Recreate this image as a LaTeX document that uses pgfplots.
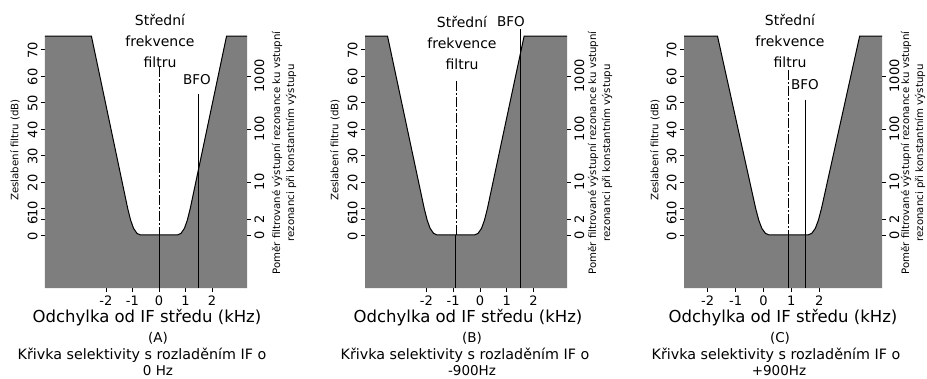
\documentclass[border=0pt]{standalone}
\usepackage{fontspec}
\setmainfont{DejaVu Sans}
\usepackage{pgfplots}
\pgfplotsset{compat=1.18}
\definecolor{fillgray}{RGB}{126,126,126}
\pgfplotsset{
  panel/.style={
    scale only axis, width=202pt, height=252pt,
    ymin=-20, ymax=75, clip=false,
    axis line style={draw=none},
    tick style={black, line width=0.5pt},
    major tick length=4pt, tick align=outside,
    xtick={-2,-1,0,1,2}, xtick pos=bottom,
    ytick={0,6,10,20,30,40,50,60,70}, ytick pos=left,
    yticklabel style={rotate=90, anchor=south, xshift=-1pt},
    ticklabel style={font=\fontsize{13}{13}\selectfont},
    /pgf/number format/assume math mode=true,
  },
  rpanel/.style={
    scale only axis, width=202pt, height=252pt,
    ymin=-20, ymax=75, clip=false,
    hide x axis, axis y line*=right,
    axis line style={draw=none},
    tick style={black, line width=0.5pt},
    major tick length=4pt, tick align=outside,
    ytick={0,6,20,40,60}, yticklabels={0,2,10,100,1000},
    yticklabel style={rotate=90, anchor=north},
    ticklabel style={font=\fontsize{13}{13}\selectfont},
  },
  curve/.style={black, line width=1pt},
  cline/.style={black, line width=0.6pt, dash pattern=on 10pt off 2pt on 2pt off 2pt},
  sline/.style={black, line width=0.8pt},
}
\newcommand{\lfont}{\fontsize{14}{21}\selectfont}
\newcommand{\xlfont}{\fontsize{16.5}{16.5}\selectfont}
\newcommand{\cfont}{\fontsize{14.3}{16}\selectfont}
\newcommand{\bfont}{\fontsize{13.5}{16}\selectfont}
\newcommand{\sfont}{\fontsize{10.2}{14}\selectfont}
\begin{document}
\begin{tikzpicture}[x=1pt,y=1pt]
\path[use as bounding box] (0pt,0pt) rectangle (927pt,378pt);

% ---------------- Panel A ----------------
\begin{axis}[panel, at={(45pt,90pt)}, anchor=south west, xmin=-4.3, xmax=3.32]
\addplot[fill=fillgray, draw=none] coordinates {
 (-4.3,-20) (-4.3,75) (-2.55,75) (-1.18,10) (-1.07,5.6) (-0.96,2.5) (-0.83,0.6) (-0.70,0)
 (0.70,0) (0.83,0.6) (0.96,2.5) (1.07,5.6) (1.18,10) (2.55,75) (3.32,75) (3.32,-20)} -- cycle;
\addplot[curve] coordinates {
 (-4.3,75) (-2.55,75) (-1.18,10) (-1.07,5.6) (-0.96,2.5) (-0.83,0.6) (-0.70,0)
 (0.70,0) (0.83,0.6) (0.96,2.5) (1.07,5.6) (1.18,10) (2.55,75) (3.32,75)};
\addplot[cline] coordinates {(0,63.5) (0,0)};
\addplot[sline] coordinates {(0,0) (0,-20)};
\addplot[sline] coordinates {(1.5,53) (1.5,-20)};
\end{axis}
\begin{axis}[rpanel, at={(45pt,90pt)}, anchor=south west, xmin=-4.3, xmax=3.32]
\end{axis}
\node[font=\lfont, align=center] at (160pt,337pt) {Střední\\frekvence\\filtru};
\node[font=\bfont] at (197pt,298pt) {BFO};
\node[font=\xlfont] at (147pt,60pt) {Odchylka od IF středu (kHz)};
\node[font=\bfont] at (158pt,40pt) {(A)};
\node[font=\cfont] at (142pt,23pt) {Křivka selektivity s rozladěním IF o};
\node[font=\bfont] at (158pt,7pt) {0 Hz};
\node[font=\sfont, rotate=90] at (15pt,228pt) {Zeslabení filtru (dB)};
\node[font=\sfont, rotate=90, align=center] at (284pt,225pt) {Poměr filtrované výstupní rezonance ku vstupní\\rezonanci při konstantním výstupu};

% ---------------- Panel B ----------------
\begin{axis}[panel, at={(365pt,90pt)}, anchor=south west, xmin=-4.29, xmax=3.25]
\addplot[fill=fillgray, draw=none] coordinates {
 (-4.29,-20) (-4.29,75) (-3.45,75) (-2.08,10) (-1.97,5.6) (-1.86,2.5) (-1.73,0.6) (-1.60,0)
 (-0.20,0) (-0.07,0.6) (0.06,2.5) (0.17,5.6) (0.28,10) (1.65,75) (3.25,75) (3.25,-20)} -- cycle;
\addplot[curve] coordinates {
 (-4.29,75) (-3.45,75) (-2.08,10) (-1.97,5.6) (-1.86,2.5) (-1.73,0.6) (-1.60,0)
 (-0.20,0) (-0.07,0.6) (0.06,2.5) (0.17,5.6) (0.28,10) (1.65,75) (3.25,75)};
\addplot[cline] coordinates {(-0.9,58) (-0.9,0)};
\addplot[sline] coordinates {(-0.9,0) (-0.9,-20)};
\addplot[sline] coordinates {(1.5,77.6) (1.5,-20)};
\end{axis}
\begin{axis}[rpanel, at={(365pt,90pt)}, anchor=south west, xmin=-4.29, xmax=3.25]
\end{axis}
\node[font=\lfont, align=center] at (462pt,335pt) {Střední\\frekvence\\filtru};
\node[font=\bfont] at (511pt,356pt) {BFO};
\node[font=\xlfont] at (468pt,60pt) {Odchylka od IF středu (kHz)};
\node[font=\bfont] at (472pt,40pt) {(B)};
\node[font=\cfont] at (465pt,23pt) {Křivka selektivity s rozladěním IF o};
\node[font=\bfont] at (472pt,7pt) {-900Hz};
\node[font=\sfont, rotate=90] at (335pt,228pt) {Zeslabení filtru (dB)};
\node[font=\sfont, rotate=90, align=center] at (600pt,225pt) {Poměr filtrované výstupní rezonance ku vstupní\\rezonanci při konstantním výstupu};

% ---------------- Panel C ----------------
\begin{axis}[panel, at={(684pt,90pt)}, anchor=south west, width=198pt, xmin=-2.85, xmax=4.25]
\addplot[fill=fillgray, draw=none] coordinates {
 (-2.85,-20) (-2.85,75) (-1.65,75) (-0.28,10) (-0.17,5.6) (-0.06,2.5) (0.07,0.6) (0.20,0)
 (1.60,0) (1.73,0.6) (1.86,2.5) (1.97,5.6) (2.08,10) (3.45,75) (4.25,75) (4.25,-20)} -- cycle;
\addplot[curve] coordinates {
 (-2.85,75) (-1.65,75) (-0.28,10) (-0.17,5.6) (-0.06,2.5) (0.07,0.6) (0.20,0)
 (1.60,0) (1.73,0.6) (1.86,2.5) (1.97,5.6) (2.08,10) (3.45,75) (4.25,75)};
\addplot[cline] coordinates {(0.9,62) (0.9,0)};
\addplot[sline] coordinates {(0.9,0) (0.9,-20)};
\addplot[sline] coordinates {(1.5,51) (1.5,-20)};
\end{axis}
\begin{axis}[rpanel, at={(684pt,90pt)}, anchor=south west, width=198pt, xmin=-2.85, xmax=4.25]
\end{axis}
\node[font=\lfont, align=center] at (790pt,337pt) {Střední\\frekvence\\filtru};
\node[font=\bfont] at (805pt,293pt) {BFO};
\node[font=\xlfont] at (783pt,60pt) {Odchylka od IF středu (kHz)};
\node[font=\bfont] at (780pt,40pt) {(C)};
\node[font=\cfont] at (776pt,23pt) {Křivka selektivity s rozladěním IF o};
\node[font=\bfont] at (779pt,7pt) {+900Hz};
\node[font=\sfont, rotate=90] at (655pt,228pt) {Zeslabení filtru (dB)};
\node[font=\sfont, rotate=90, align=center] at (913pt,225pt) {Poměr filtrované výstupní rezonance ku vstupní\\rezonanci při konstantním výstupu};
\end{tikzpicture}
\end{document}
